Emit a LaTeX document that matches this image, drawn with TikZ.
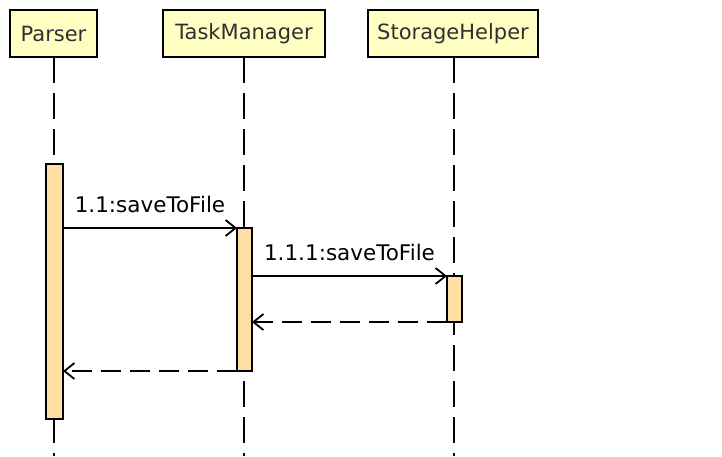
\documentclass[tikz,border=0pt]{standalone}
\usepackage{fontspec}
\setmainfont{DejaVu Sans}
\usetikzlibrary{arrows.meta}
\definecolor{hdrfill}{HTML}{FFFFC4}
\definecolor{actfill}{HTML}{FFDFA3}
\definecolor{txt}{HTML}{303030}
\tikzset{
  header/.style={draw=black, line width=2pt, fill=hdrfill, minimum height=47pt, inner sep=0pt, outer sep=0pt, font=\fontsize{21}{25}\selectfont, text=txt, anchor=north west},
  lifeline/.style={draw=black, line width=1.8pt, dash pattern=on 26pt off 10pt},
  actbox/.style={draw=black, line width=1.8pt, fill=actfill, anchor=north west, inner sep=0pt, outer sep=0pt},
  msg/.style={draw=black, line width=1.8pt, -{Straight Barb[length=10pt,width=16pt,line width=1.8pt]}},
  ret/.style={msg, dash pattern=on 20pt off 9pt},
  msglabel/.style={font=\fontsize{21.5}{25}\selectfont, text=black, anchor=base, yshift=16pt, inner sep=0pt}
}
\begin{document}
\begin{tikzpicture}[x=1pt,y=-1pt]
\useasboundingbox (0,0) rectangle (722,456);
\node[header, minimum width=87pt] (hp) at (10,10) {Parser};
\node[header, minimum width=162pt] (ht) at (163,10) {TaskManager};
\node[header, minimum width=170pt] (hs) at (368,10) {StorageHelper};
\coordinate (ep) at (54,456);
\coordinate (et) at (244,456);
\coordinate (es) at (454,456);
\draw[lifeline] (hp.south -| ep) -- (ep);
\draw[lifeline] (ht.south -| et) -- (et);
\draw[lifeline] (hs.south -| es) -- (es);
\node[actbox, minimum width=17pt, minimum height=255pt] (ap) at (46,164) {};
\node[actbox, minimum width=15pt, minimum height=143pt] (at) at (237,228) {};
\node[actbox, minimum width=15pt, minimum height=46pt] (as) at (447,276) {};
\draw[msg] (ap.east |- at.north) -- node[msglabel] {1.1:saveToFile} (at.north west);
\draw[msg] (at.east |- as.north) -- node[msglabel] {1.1.1:saveToFile} (as.north west);
\draw[ret] (as.south west) -- (at.east |- as.south);
\draw[ret] (at.south west) -- (ap.east |- at.south);
\end{tikzpicture}
\end{document}
